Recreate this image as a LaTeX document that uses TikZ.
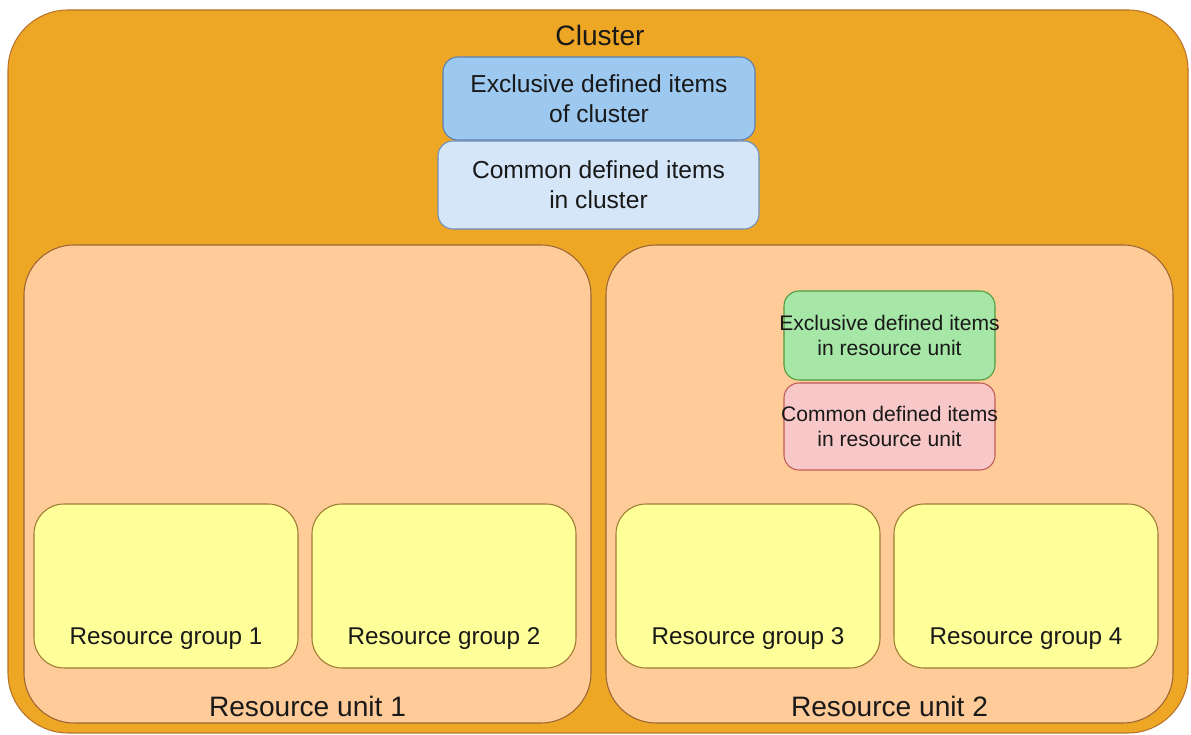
\documentclass[tikz,border=0pt]{standalone}
\usepackage{fontspec}
\setmainfont{Liberation Sans}
\usepackage{xcolor}
\usepackage{tikz}
\usetikzlibrary{positioning}
\definecolor{clusterfill}{HTML}{EEA724}
\definecolor{clusterdraw}{HTML}{B8732A}
\definecolor{unitfill}{HTML}{FFCC99}
\definecolor{unitdraw}{HTML}{9C6434}
\definecolor{groupfill}{HTML}{FFFF99}
\definecolor{groupdraw}{HTML}{9C7A34}
\definecolor{exclfill}{HTML}{9DC9F1}
\definecolor{excldraw}{HTML}{5A7FB0}
\definecolor{commfill}{HTML}{D4E6F8}
\definecolor{commdraw}{HTML}{6C8EBF}
\definecolor{greenfill}{HTML}{A6E6A6}
\definecolor{greendraw}{HTML}{4E9A3A}
\definecolor{redfill}{HTML}{F8C8C8}
\definecolor{reddraw}{HTML}{C05A56}
\tikzset{
    box/.style={
        rectangle,
        draw, semithick,
        align=center,
        inner sep=0pt,
        text=black!90
    },
    clusterbox/.style={box, fill=clusterfill, draw=clusterdraw, rounded corners=1.2cm},
    unitbox/.style={box, fill=unitfill, draw=unitdraw, rounded corners=1cm,
        minimum width=11.34cm, minimum height=9.56cm},
    groupbox/.style={box, fill=groupfill, draw=groupdraw, rounded corners=0.6cm,
        minimum width=5.28cm, minimum height=3.28cm},
    itembox/.style={box, rounded corners=0.3cm, font={\fontsize{14pt}{17pt}\selectfont}},
    smallitem/.style={box, rounded corners=0.3cm, minimum width=4.22cm},
    lbl/.style={inner sep=0pt, text=black!90},
}

\begin{document}
\begin{tikzpicture}
[
    biglbl/.style={lbl, font={\fontsize{16pt}{19pt}\selectfont}},
    grplbl/.style={lbl, font={\fontsize{13.8pt}{16pt}\selectfont}},
    smalllbl/.style={lbl, align=center, font={\fontsize{12pt}{14pt}\selectfont}},
]
\useasboundingbox (0,0) rectangle (23.82,14.7);
% cluster
\node(Cl) at (11.96, 7.27)[clusterbox, minimum width = 23.6cm, minimum height = 14.46cm]{};
\node(ClLbl) at (12.0, 14.0)[biglbl]{Cluster};
\node(ClEx) at (11.98, 12.73)[itembox, fill=exclfill, draw=excldraw, minimum width = 6.24cm, minimum height = 1.66cm]{Exclusive defined items\\of cluster};
\node(ClCo) at (11.97, 11.0)[itembox, fill=commfill, draw=commdraw, minimum width = 6.42cm, minimum height = 1.76cm]{Common defined items\\in cluster};
% resource units
\node(RU1) at (6.15, 5.02)[unitbox]{};
\node(RU2) at (17.79, 5.02)[unitbox]{};
\node(RU1Lbl) at (6.15, 0.58)[biglbl]{Resource unit 1};
\node(RU2Lbl) at (17.79, 0.58)[biglbl]{Resource unit 2};
\node(RUEx) at (17.79, 7.99)[smallitem, fill=greenfill, draw=greendraw, minimum height = 1.78cm]{};
\node(RUCo) at (17.79, 6.17)[smallitem, fill=redfill, draw=reddraw, minimum height = 1.74cm]{};
\node(RUExLbl) at (RUEx)[smalllbl]{Exclusive defined items\\in resource unit};
\node(RUCoLbl) at (RUCo)[smalllbl]{Common defined items\\in resource unit};
% resource groups
\node(RG1) at (3.32, 2.98)[groupbox]{};
\node(RG2) at (8.88, 2.98)[groupbox]{};
\node(RG3) at (14.96, 2.98)[groupbox]{};
\node(RG4) at (20.52, 2.98)[groupbox]{};
\node(RG1Lbl) at (3.32, 1.92)[grplbl]{Resource group 1};
\node(RG2Lbl) at (8.88, 1.92)[grplbl]{Resource group 2};
\node(RG3Lbl) at (14.96, 1.92)[grplbl]{Resource group 3};
\node(RG4Lbl) at (20.52, 1.92)[grplbl]{Resource group 4};
\end{tikzpicture}
\end{document}
